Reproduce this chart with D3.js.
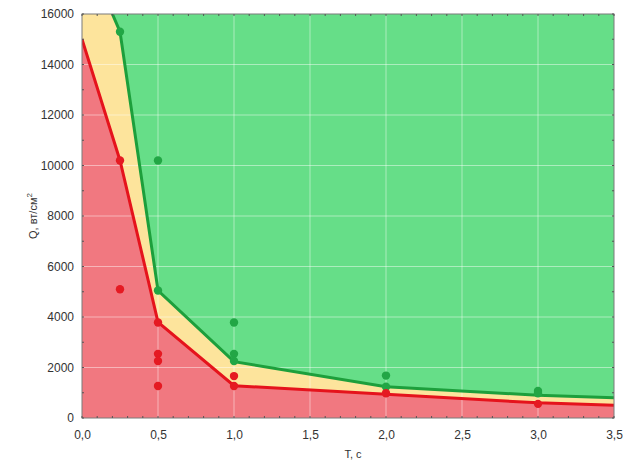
<!DOCTYPE html>
<html><head><meta charset="utf-8">
<script src="https://cdn.jsdelivr.net/npm/d3@7"></script>
<style>body{margin:0;background:#fff}svg{display:block}text{font-family:"Liberation Sans",Arial,sans-serif;fill:#333}</style>
</head><body><svg id="c" width="637" height="464"></svg>
<script>
const redLineT = [0, 0.25, 0.5, 1.0, 2.0, 3.0, 3.5];
const redLineQ = [15000, 10200, 3800, 1280, 940, 600, 500];
const greenLineT = [0, 0.25, 0.5, 1.0, 2.0, 3.0, 3.5];
const greenLineQ = [18800, 15300, 5050, 2230, 1240, 900, 800];
const redDotsT = [0.25, 0.25, 0.5, 0.5, 0.5, 0.5, 1.0, 1.0, 2.0, 3.0];
const redDotsQ = [10200, 5100, 3780, 2540, 2260, 1270, 1660, 1270, 980, 560];
const greenDotsT = [0.25, 0.5, 0.5, 1.0, 1.0, 1.0, 2.0, 2.0, 3.0, 3.0];
const greenDotsQ = [15300, 10200, 5050, 3780, 2540, 2260, 1680, 1240, 1070, 980];
const xTicks = [0, 0.5, 1.0, 1.5, 2.0, 2.5, 3.0, 3.5];
const yTicks = [0, 2000, 4000, 6000, 8000, 10000, 12000, 14000, 16000];
const xTitle = "T, c";
const yTitle = "Q, вт/см";

const svg = d3.select("#c");
const m = {l: 82, r: 614, t: 14, b: 418};
const x = d3.scaleLinear().domain([0, 3.5]).range([m.l, m.r]);
const y = d3.scaleLinear().domain([0, 16000]).range([m.b, m.t]);

svg.append("clipPath").attr("id", "clip").append("rect")
  .attr("x", m.l).attr("y", m.t).attr("width", m.r - m.l).attr("height", m.b - m.t);

const g = svg.append("g").attr("clip-path", "url(#clip)");
g.append("rect").attr("x", m.l).attr("y", m.t).attr("width", m.r - m.l).attr("height", m.b - m.t).attr("fill", "#66de88");

const red = redLineT.map((t, i) => [t, redLineQ[i]]);
const green = greenLineT.map((t, i) => [t, greenLineQ[i]]);

g.append("path").datum(green).attr("fill", "#fde49c")
  .attr("d", d3.area().x(d => x(d[0])).y0(y(0)).y1(d => y(d[1])));
g.append("path").datum(red).attr("fill", "#f17880")
  .attr("d", d3.area().x(d => x(d[0])).y0(y(0)).y1(d => y(d[1])));

// grid
g.append("g").selectAll("line").data(xTicks.slice(1, -1)).join("line")
  .attr("x1", d => x(d)).attr("x2", d => x(d)).attr("y1", m.t).attr("y2", m.b)
  .attr("stroke", "#fff").attr("stroke-opacity", 0.45).attr("stroke-width", 1);
g.append("g").selectAll("line").data(yTicks.slice(1, -1)).join("line")
  .attr("y1", d => y(d)).attr("y2", d => y(d)).attr("x1", m.l).attr("x2", m.r)
  .attr("stroke", "#fff").attr("stroke-opacity", 0.45).attr("stroke-width", 1);

const line = d3.line().x(d => x(d[0])).y(d => y(d[1]));
g.append("path").datum(green).attr("fill", "none").attr("stroke", "#1d9f3c").attr("stroke-width", 3).attr("d", line);
g.append("path").datum(red).attr("fill", "none").attr("stroke", "#e5131c").attr("stroke-width", 3).attr("d", line);

g.append("g").selectAll("circle").data(greenDotsT.map((t, i) => [t, greenDotsQ[i]])).join("circle")
  .attr("cx", d => x(d[0])).attr("cy", d => y(d[1])).attr("r", 4.2).attr("fill", "#22a645");
g.append("g").selectAll("circle").data(redDotsT.map((t, i) => [t, redDotsQ[i]])).join("circle")
  .attr("cx", d => x(d[0])).attr("cy", d => y(d[1])).attr("r", 4.2).attr("fill", "#e51a22");

// frame
svg.append("rect").attr("x", m.l).attr("y", m.t).attr("width", m.r - m.l).attr("height", m.b - m.t)
  .attr("fill", "none").attr("stroke", "#7a7a7a").attr("stroke-width", 1);

// axes
const fmtX = d => d3.format(".1f")(d).replace(".", ",");
const xAxis = d3.axisBottom(x).tickValues(xTicks).tickFormat(fmtX).tickSize(0).tickPadding(12);
const xa = svg.append("g").attr("transform", `translate(0,${m.b})`).call(xAxis);
xa.select(".domain").remove();
xa.selectAll("text").attr("font-size", 12).attr("fill", "#333");

const yAxis = d3.axisLeft(y).tickValues(yTicks).tickFormat(d3.format("d")).tickSize(0).tickPadding(8);
const ya = svg.append("g").attr("transform", `translate(${m.l},0)`).call(yAxis);
ya.select(".domain").remove();
ya.selectAll("text").attr("font-size", 12).attr("fill", "#333");

// minor/major inner ticks
const xMinor = x.ticks(35);
const yMinor = y.ticks(16);
const tk = svg.append("g").attr("stroke", "#555").attr("stroke-width", 1);
tk.selectAll(".xb").data(xMinor).join("line").attr("x1", d => x(d)).attr("x2", d => x(d)).attr("y1", m.b).attr("y2", m.b - 2);
tk.selectAll(".xt").data(xMinor).join("line").attr("x1", d => x(d)).attr("x2", d => x(d)).attr("y1", m.t).attr("y2", m.t + 2);
tk.selectAll(".yl").data(yMinor).join("line").attr("y1", d => y(d)).attr("y2", d => y(d)).attr("x1", m.l).attr("x2", m.l + 2);
tk.selectAll(".yr").data(yMinor).join("line").attr("y1", d => y(d)).attr("y2", d => y(d)).attr("x1", m.r).attr("x2", m.r - 2);

svg.append("text").attr("x", 353).attr("y", 458).attr("text-anchor", "middle").attr("font-size", 11).text(xTitle);
const yt = svg.append("text").attr("transform", `translate(37,${(m.t + m.b) / 2}) rotate(-90)`)
  .attr("text-anchor", "middle").attr("font-size", 11);
yt.append("tspan").text(yTitle);
yt.append("tspan").attr("font-size", 8).attr("dy", -5).text("2");
</script></body></html>
